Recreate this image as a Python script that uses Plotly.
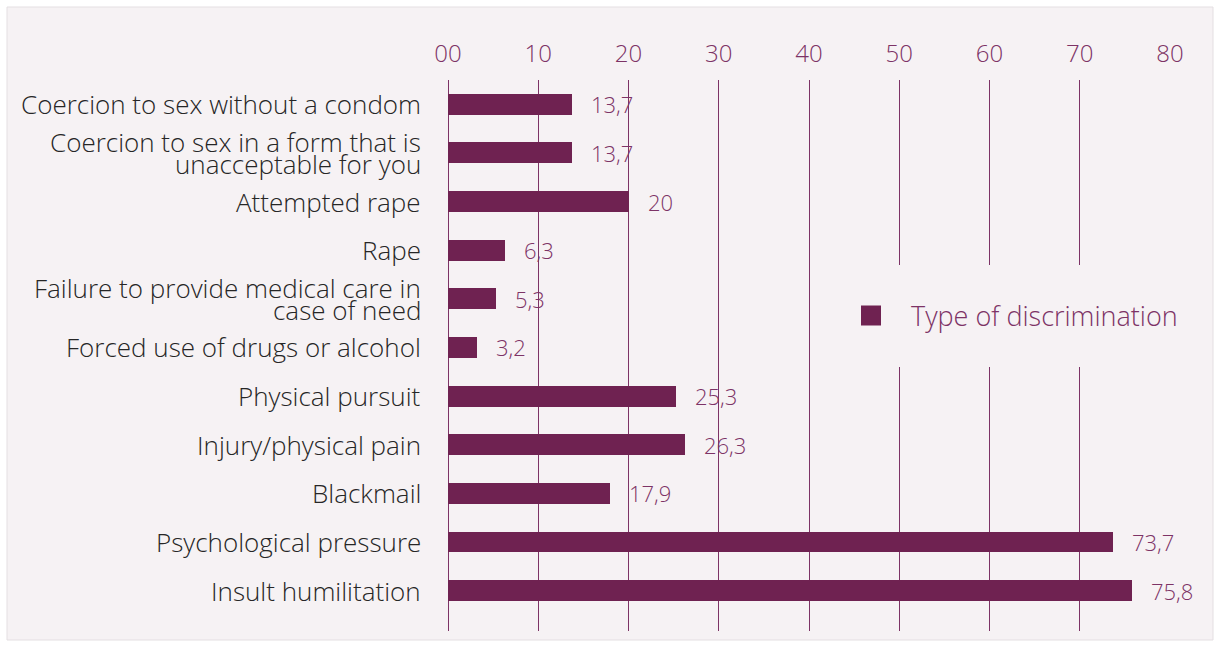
import plotly.graph_objects as go

# Survey data: share of respondents (%) reporting each type of violence
categories = [
    "Coercion to sex without a condom",
    "Coercion to sex in a form that is<br>unacceptable for you",
    "Attempted rape",
    "Rape",
    "Failure to provide medical care in<br>case of need",
    "Forced use of drugs or alcohol",
    "Physical pursuit",
    "Injury/physical pain",
    "Blackmail",
    "Psychological pressure",
    "Insult humilitation",
]
values = [13.7, 13.7, 20, 6.3, 5.3, 3.2, 25.3, 26.3, 17.9, 73.7, 75.8]
tick_vals = [0, 10, 20, 30, 40, 50, 60, 70, 80]
tick_text = ["00", "10", "20", "30", "40", "50", "60", "70", "80"]
series_name = "Type of discrimination"

BAR = "#6f2251"
PURPLE = "#7d3366"
TEXT = "#262626"
BG = "#f6f2f4"
FONT = "Open Sans"

W, H = 1220, 646
ML, MR, MT, MB = 448, 50, 80, 15
PW, PH = W - ML - MR, H - MT - MB

def px_x(p):
    return (p - ML) / PW

def px_y(p):
    return (H - MB - p) / PH

fig = go.Figure()
fig.add_trace(go.Bar(
    x=values, y=categories, orientation="h",
    marker=dict(color=BAR, line=dict(width=0)),
    width=0.43, showlegend=False, hoverinfo="x",
))
# legend entry with a larger square swatch
fig.add_trace(go.Scatter(
    x=[None], y=[None], mode="markers", name=series_name,
    marker=dict(symbol="square", size=16, color=BAR,
                line=dict(color=BAR, width=4)),
))

# value labels to the right of each bar
for c, v in zip(categories, values):
    fig.add_annotation(
        x=v, y=c, xref="x", yref="y",
        text=f"{v:g}".replace(".", ","),
        showarrow=False, xanchor="left", xshift=17,
        font=dict(family=FONT, size=22, color=PURPLE, weight=300),
    )

# category labels, tightly leaded when wrapped onto two lines
LEAD = 22
for c in categories:
    lines = c.split("<br>")
    n = len(lines)
    for i, line in enumerate(lines):
        fig.add_annotation(
            x=0, y=c, xref="paper", yref="y",
            text=line, showarrow=False, xanchor="right", xshift=-25,
            yshift=((n - 1) / 2 - i) * LEAD,
            font=dict(family=FONT, size=26, color=TEXT, weight=300),
        )

shapes = [
    # panel background with faint border
    dict(type="rect", xref="paper", yref="paper", layer="below",
         x0=px_x(7), x1=px_x(1213), y0=px_y(640), y1=px_y(7),
         fillcolor=BG, line=dict(color="#e4dfe2", width=1)),
    # clear area behind the legend
    dict(type="rect", xref="paper", yref="paper", layer="above",
         x0=px_x(835), x1=px_x(1205), y0=px_y(367), y1=px_y(265),
         fillcolor=BG, line=dict(width=0)),
]

fig.update_layout(
    width=W, height=H,
    margin=dict(l=ML, r=MR, t=MT, b=MB, pad=0),
    paper_bgcolor="white", plot_bgcolor="rgba(0,0,0,0)",
    shapes=shapes,
    bargap=0,
    font=dict(family=FONT, weight=300),
    xaxis=dict(
        side="top", range=[0, 80], tickvals=tick_vals, ticktext=tick_text,
        showgrid=True, gridcolor=PURPLE, gridwidth=1,
        zeroline=True, zerolinecolor=PURPLE, zerolinewidth=1,
        showline=False, ticks="", ticklabelstandoff=12,
        tickfont=dict(family=FONT, size=24, color=PURPLE, weight=300),
    ),
    yaxis=dict(
        categoryorder="array", categoryarray=categories,
        range=[10.83, -0.5], showgrid=False, zeroline=False, showline=False,
        ticks="", showticklabels=False,
    ),
    legend=dict(
        x=px_x(831), y=px_y(316), xanchor="left", yanchor="middle",
        bgcolor="rgba(0,0,0,0)", itemwidth=70,
        font=dict(family=FONT, size=27, color=PURPLE, weight=300),
    ),
)

fig.write_html("out.html")
